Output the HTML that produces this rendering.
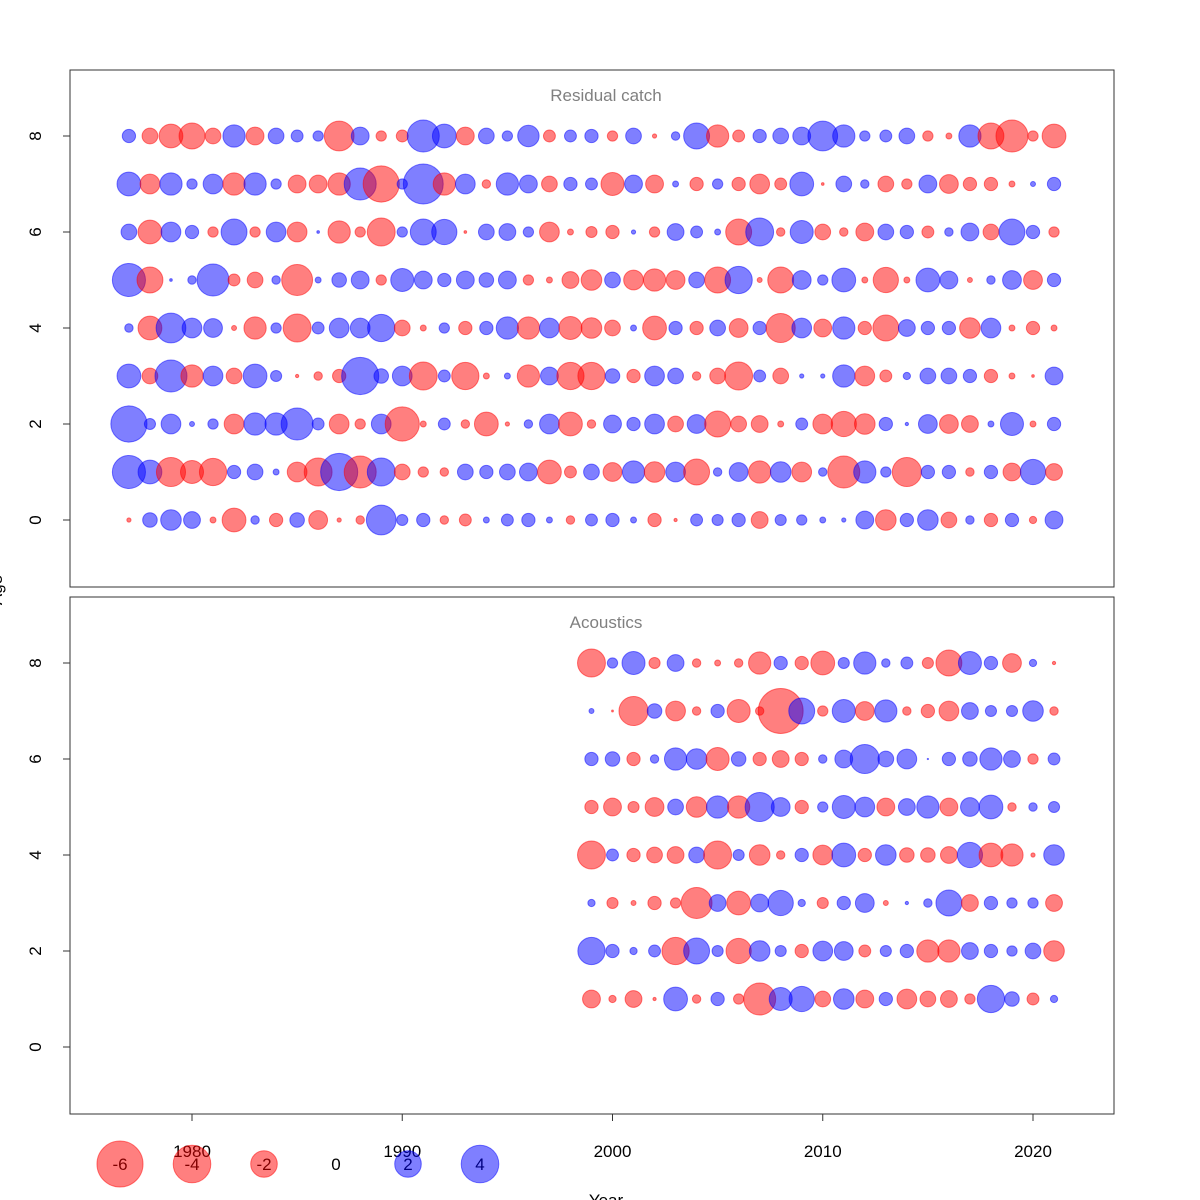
<!DOCTYPE html>
<html><head><meta charset="utf-8"><style>
body{margin:0;background:#fff;}
svg{display:block;font-family:"Liberation Sans",sans-serif;}
</style></head><body>
<svg id="chart" width="1200" height="1200" viewBox="0 0 1200 1200" xmlns="http://www.w3.org/2000/svg">
<rect x="0" y="0" width="1200" height="1200" fill="#fff"/>
<g id="top"></g>
<g id="bot"></g>
<g id="xaxis"></g>
<g id="legend"></g>
<text x="606" y="1206" text-anchor="middle" font-size="17">Year</text>
<text transform="translate(2,590) rotate(-90)" text-anchor="middle" font-size="17">Age</text>
</svg>
<script>
const catchYears = [1977,1978,1979,1980,1981,1982,1983,1984,1985,1986,1987,1988,1989,1990,1991,1992,1993,1994,1995,1996,1997,1998,1999,2000,2001,2002,2003,2004,2005,2006,2007,2008,2009,2010,2011,2012,2013,2014,2015,2016,2017,2018,2019,2020,2021];
const catchAge8 = [0.5,-0.7,-1.6,-1.9,-0.7,1.4,-0.9,0.7,0.4,0.3,-2.5,0.9,-0.3,-0.4,2.9,1.6,-0.9,0.7,0.3,1.3,-0.4,0.4,0.5,-0.3,0.7,-0.05,0.2,1.9,-1.4,-0.4,0.5,0.7,0.9,2.5,1.4,0.3,0.4,0.7,-0.3,-0.1,1.4,-1.9,-2.9,-0.3,-1.6];
const catchAge7 = [1.6,-1.1,1.4,0.3,1.1,-1.4,1.4,0.3,-0.9,-0.9,-1.4,2.9,-3.7,0.3,4.5,-1.4,1.1,-0.2,1.4,0.9,-0.7,0.5,0.4,-1.5,0.9,-0.9,0.1,-0.5,0.3,-0.5,-1.1,-0.4,1.6,-0.02,0.7,0.2,-0.7,-0.3,0.9,-1.0,-0.5,-0.5,-0.1,0.07,0.5];
const catchAge6 = [0.7,-1.6,1.1,0.5,-0.3,1.9,-0.3,1.1,-1.1,0.02,-1.4,-0.3,-2.2,0.3,1.9,1.8,-0.02,0.7,0.8,0.3,-1.1,-0.1,-0.35,-0.5,0.05,-0.3,0.8,0.4,0.1,-1.9,2.2,-0.2,1.5,-0.7,-0.2,-0.9,0.7,0.5,-0.4,0.2,0.9,-0.7,1.9,0.5,-0.3];
const catchAge5 = [3.1,-1.9,0.02,0.2,2.9,-0.4,-0.7,0.2,-2.7,0.1,0.6,0.9,-0.3,1.5,0.9,0.5,0.9,0.6,0.9,-0.3,-0.1,-0.8,-1.2,0.7,-1.1,-1.4,-1.0,0.7,-1.9,2.1,-0.07,-1.9,1.0,0.3,1.6,-0.1,-1.8,-0.1,1.6,0.9,-0.07,0.2,1.0,-1.0,0.5];
const catchAge4 = [0.2,-1.6,2.5,1.1,1.0,-0.07,-1.4,0.3,-2.2,0.4,1.1,1.1,2.1,-0.7,-0.1,0.3,-0.5,0.5,1.4,-1.4,1.1,-1.5,-1.2,-0.7,0.1,-1.6,0.5,-0.5,0.7,-1.0,0.5,-2.4,1.1,-0.9,1.4,-0.5,-1.9,0.8,0.5,0.5,-1.2,1.1,-0.1,-0.5,-0.1];
const catchAge3 = [1.6,-0.7,2.9,-1.4,1.1,-0.7,1.6,0.35,-0.03,-0.2,-0.5,3.9,0.6,1.1,-2.2,0.4,-2.1,-0.1,0.1,-1.4,0.9,-2.1,-2.1,0.6,-0.5,1.1,0.7,-0.2,-0.7,-2.2,0.4,-0.7,0.05,0.05,1.4,-1.1,-0.4,0.15,0.7,0.7,0.5,-0.5,-0.1,-0.02,0.9];
const catchAge2 = [3.7,0.35,1.1,0.07,0.3,-1.1,1.4,1.4,2.9,0.4,-1.1,-0.3,1.1,-3.3,-0.1,0.4,-0.2,-1.6,-0.05,0.2,1.1,-1.6,-0.2,0.9,0.5,1.1,-0.7,1.0,-1.9,-0.7,-0.8,-0.1,0.4,-1.1,-1.8,-1.2,0.5,0.03,1.0,-1.0,-0.8,0.1,1.5,-0.1,0.5];
const catchAge1 = [3.1,1.6,-2.4,-1.5,-2.1,0.5,0.7,0.1,-1.1,-2.2,3.9,-2.9,2.2,-0.7,-0.3,-0.2,0.7,0.5,0.7,0.9,-1.6,-0.4,0.7,-1.0,1.4,-1.2,1.1,-1.9,0.2,1.0,-1.4,1.2,-1.1,0.2,-2.9,1.4,0.3,-2.4,0.5,0.5,-0.2,0.5,-0.9,1.8,-0.8];
const catchAge0 = [-0.05,0.6,1.2,0.8,-0.1,-1.6,0.2,-0.5,0.6,-1.0,-0.05,-0.2,2.5,0.35,0.5,-0.2,-0.4,0.1,0.4,0.5,0.1,-0.2,0.4,0.5,0.1,-0.5,-0.03,0.4,0.35,0.5,-0.8,0.35,0.3,0.1,0.05,0.9,-1.2,0.5,1.2,-0.7,0.2,-0.5,0.5,-0.15,0.9];

const acousticYears = [1999,2000,2001,2002,2003,2004,2005,2006,2007,2008,2009,2010,2011,2012,2013,2014,2015,2016,2017,2018,2019,2020,2021];
const acousticAge8 = [-2.2,0.3,1.5,-0.35,0.8,-0.2,-0.1,-0.2,-1.4,0.5,-0.5,-1.6,0.35,1.4,0.2,0.4,-0.35,-1.9,1.5,0.5,-1.0,0.15,-0.03];
const acousticAge7 = [0.07,-0.01,-2.4,0.6,-1.1,-0.2,0.5,-1.5,-0.2,-5.7,1.9,-0.3,1.5,-1.0,1.4,-0.2,-0.5,-1.1,0.8,0.35,0.35,1.2,-0.2];
const acousticAge6 = [0.5,0.6,-0.5,0.2,1.4,1.2,-1.5,0.6,-0.5,-0.8,-0.5,0.2,0.9,2.4,0.7,1.1,0.005,0.5,0.6,1.4,0.8,-0.3,0.4];
const acousticAge5 = [-0.5,-0.9,-0.35,-1.0,0.7,-1.2,1.4,-1.4,2.4,1.0,-0.5,0.3,1.5,1.1,-0.9,0.8,1.4,-0.9,1.0,1.6,-0.2,0.2,0.35];
const acousticAge4 = [-2.2,0.4,-0.5,-0.7,-0.8,0.7,-2.2,0.35,-1.2,-0.2,0.5,-1.1,1.6,-0.5,1.2,-0.6,-0.6,-0.8,1.8,-1.6,-1.4,-0.05,1.2];
const acousticAge3 = [0.15,-0.35,-0.07,-0.5,-0.3,-2.7,0.8,-1.6,0.9,1.8,0.15,-0.35,0.5,1.0,-0.07,0.03,0.2,1.9,-0.8,0.5,0.3,0.3,-0.8];
const acousticAge2 = [2.1,0.5,0.15,0.4,-2.1,1.9,0.35,-1.8,1.2,0.35,-0.5,1.1,1.0,-0.4,0.35,0.5,-1.4,-1.4,0.8,0.5,0.3,0.7,-1.2];
const acousticAge1 = [-0.9,-0.15,-0.8,-0.03,1.6,-0.2,0.5,-0.3,-2.9,1.5,1.8,-0.7,1.2,-0.9,0.5,-1.1,-0.7,-0.8,-0.3,2.1,0.6,-0.4,0.15];

const xTickLabels = [1980,1990,2000,2010,2020];
const yTickLabels = [0,2,4,6,8];
const legendValues = [-6,-4,-2,0,2,4];

const NS = "http://www.w3.org/2000/svg";
function mk(tag, attrs, parent){ const e=document.createElementNS(NS,tag); for(const k in attrs) e.setAttribute(k,attrs[k]); parent.appendChild(e); return e; }
const xScale = yr => 192 + (yr-1980)*21.025;
const rScale = v => 9.4*Math.sqrt(Math.abs(v));
const RED="rgba(255,0,0,0.5)", BLUE="rgba(0,0,255,0.5)";

function panel(g, top, bottom, title, years, rows){
  const y0 = top + 450;
  const yScale = a => y0 - a*48;
  const box = mk('rect',{x:70,y:top,width:1044,height:bottom-top,fill:'none',stroke:'#333','stroke-width':1},g);
  
  
  const t = mk('text',{x:606,y:top+31,'text-anchor':'middle','font-size':17,fill:'#808080'},g);
  t.textContent = title;
  
  
  yTickLabels.forEach(v=>{
    const y=yScale(v);
    const tk = mk('line',{x1:63,x2:70,y1:y,y2:y,stroke:'#333'},g);
    
    
    const lb = mk('text',{transform:`translate(41,${y}) rotate(-90)`,'text-anchor':'middle','font-size':17},g);
    lb.textContent = v;
    
    
  });
  rows.forEach(([age, vals])=>{
    vals.forEach((v,i)=>{
      const col = v<0?RED:BLUE;
      const c = mk('circle',{cx:xScale(years[i]),cy:yScale(age),r:rScale(v),fill:col,stroke:col,'stroke-width':1},g);
      
      
    });
  });
}
panel(document.getElementById('top'),70,587,'Residual catch',catchYears,
  [[8,catchAge8],[7,catchAge7],[6,catchAge6],[5,catchAge5],[4,catchAge4],[3,catchAge3],[2,catchAge2],[1,catchAge1],[0,catchAge0]]);
panel(document.getElementById('bot'),597,1114,'Acoustics',acousticYears,
  [[8,acousticAge8],[7,acousticAge7],[6,acousticAge6],[5,acousticAge5],[4,acousticAge4],[3,acousticAge3],[2,acousticAge2],[1,acousticAge1]]);

const xa=document.getElementById('xaxis');
xTickLabels.forEach(yr=>{
  const x=xScale(yr);
  const tk=mk('line',{x1:x,x2:x,y1:1114,y2:1121,stroke:'#333'},xa);
  
  
  const lb=mk('text',{x:x,y:1157,'text-anchor':'middle','font-size':17},xa);
  lb.textContent=yr;
  
  
});

const lg=document.getElementById('legend');
legendValues.forEach((v,i)=>{
  const x=120+i*72, y=1164;
  if(v!==0){
    const col=v<0?RED:BLUE;
    const c=mk('circle',{cx:x,cy:y,r:rScale(v),fill:col,stroke:col},lg);
    
    
  }
  const t=mk('text',{x:x,y:y+6,'text-anchor':'middle','font-size':17,fill:v<0?'#800000':(v>0?'#000080':'#000')},lg);
  t.textContent=v;
  
  
});
</script>
</body></html>
